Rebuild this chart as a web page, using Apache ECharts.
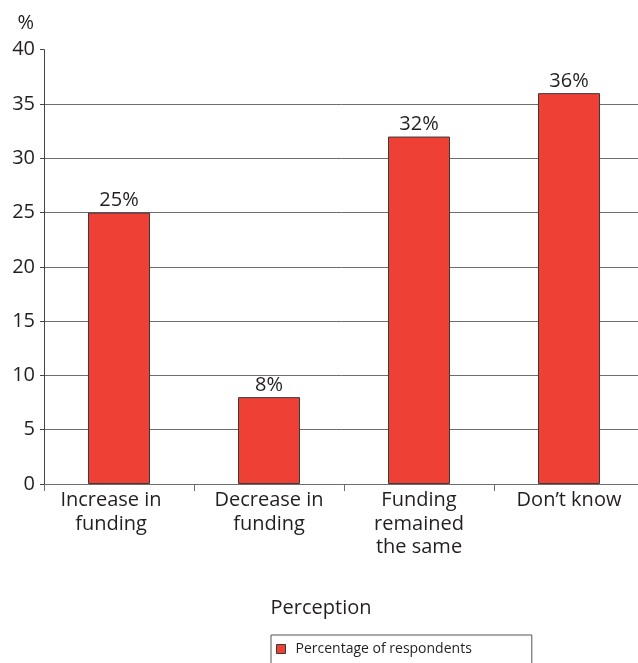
<!DOCTYPE html>
<html>
<head>
<meta charset="utf-8">
<script src="https://cdn.jsdelivr.net/npm/echarts@6/dist/echarts.min.js"></script>
<style>
  html, body { margin: 0; padding: 0; background: #fff; }
  #chart { width: 638px; height: 663px; }
</style>
</head>
<body>
<div id="chart"></div>
<script>
// Perception of funding change, share of respondents (%)
const categories = ['Increase in\nfunding', 'Decrease in\nfunding', 'Funding\nremained\nthe same', 'Don\u2019t know'];
const respondents = [25, 8, 32, 36];
const yTicks = [0, 5, 10, 15, 20, 25, 30, 35, 40];
const seriesName = 'Percentage of respondents';

const font = '"Open Sans", "DejaVu Sans", sans-serif';
const ink = '#231f20';
const gridGrey = '#6d6d6d';

// one colour per split line; the top line (40) is left invisible
const splitColors = yTicks.map((t, i) => i === yTicks.length - 1 ? 'rgba(0,0,0,0)' : gridGrey);

const chart = echarts.init(document.getElementById('chart'), null, { renderer: 'canvas' });
chart.setOption({
  animation: false,
  backgroundColor: '#ffffff',
  textStyle: { fontFamily: font, color: ink },
  grid: { left: 44, top: 49.7, width: 600, height: 434.3, containLabel: false, outerBoundsMode: 'none' },
  legend: {
    data: [seriesName],
    left: 271,
    top: 635,
    orient: 'horizontal',
    itemWidth: 9,
    itemHeight: 9,
    itemGap: 0,
    padding: [7, 60, 10, 5],
    borderColor: '#555',
    borderWidth: 1,
    borderRadius: 0,
    icon: 'rect',
    itemStyle: { borderColor: '#3a3a3a', borderWidth: 1 },
    textStyle: { fontFamily: font, fontSize: 14, color: ink, padding: [0, 0, 0, 5] }
  },
  xAxis: {
    type: 'category',
    data: categories,
    name: 'Perception',
    nameLocation: 'middle',
    nameGap: 114,
    nameTextStyle: { fontFamily: font, fontSize: 20, color: ink, padding: [0, 46, 0, 0] },
    axisLine: { show: true, lineStyle: { color: gridGrey, width: 1 } },
    axisTick: { show: true, alignWithLabel: false, length: 7, lineStyle: { color: gridGrey, width: 1 } },
    axisLabel: {
      fontFamily: font, fontSize: 20, color: ink, margin: 5, lineHeight: 23.5, interval: 0,
      // the first label sits a little left of its bar
      formatter: (v, i) => i === 0 ? v.split('\n').map(s => '{first|' + s + '}').join('\n') : v,
      rich: { first: { fontFamily: font, fontSize: 20, color: ink, lineHeight: 23.5, padding: [0, 16, 0, 0] } }
    },
    splitLine: { show: false }
  },
  yAxis: {
    type: 'value',
    min: 0,
    max: 40,
    interval: 5,
    name: '%',
    nameLocation: 'end',
    nameGap: 16,
    nameTextStyle: { fontFamily: font, fontSize: 20, color: ink, align: 'right', padding: [0, 10, 0, 0] },
    axisLine: { show: true, lineStyle: { color: '#444', width: 1 } },
    axisTick: { show: true, length: 4, lineStyle: { color: '#444', width: 1 } },
    axisLabel: { fontFamily: font, fontSize: 20, color: ink, margin: 9 },
    splitLine: { show: true, lineStyle: { color: splitColors, width: 1 } }
  },
  series: [{
    name: seriesName,
    type: 'bar',
    data: respondents,
    barWidth: 62,
    itemStyle: { color: '#ee4035', borderColor: '#3a3a3a', borderWidth: 1 },
    label: {
      show: true,
      position: 'top',
      distance: 2,
      formatter: p => p.value + '%',
      fontFamily: font,
      fontSize: 20,
      color: ink
    }
  }]
});
</script>
</body>
</html>
